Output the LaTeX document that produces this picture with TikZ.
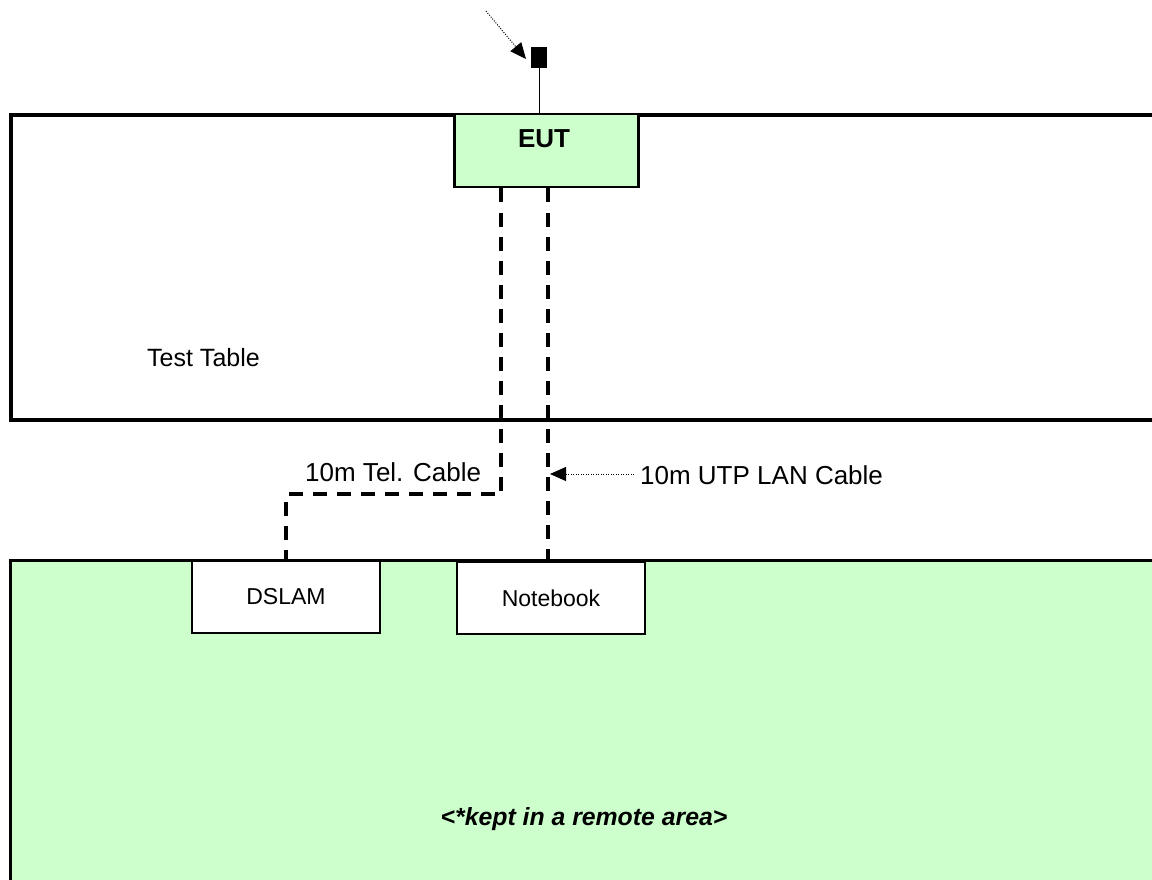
\documentclass[tikz,border=0pt]{standalone}
\usepackage{fontspec}
\setmainfont{Liberation Sans}
\usetikzlibrary{arrows.meta}
\definecolor{lightgreen}{HTML}{CCFFCC}
\tikzset{
  thickframe/.style={draw=black, line width=4pt},
  device/.style={draw=black, line width=1.3pt, fill=white, minimum width=188pt, minimum height=72pt, inner sep=0pt, font=\fontsize{23}{27}\selectfont},
  eutbox/.style={draw=black, line width=2.5pt, fill=lightgreen, minimum width=184pt, minimum height=73pt, inner sep=0pt},
  cable/.style={line width=4pt, dash pattern=on 14pt off 10pt},
  pointer/.style={line width=1pt, dash pattern=on 1pt off 1.5pt, -{Triangle[length=16pt,width=14pt]}},
  label/.style={inner sep=0pt, font=\fontsize{26}{30}\selectfont},
}
\begin{document}
\begin{tikzpicture}[x=1pt, y=-1pt]
  \useasboundingbox (0,0) rectangle (1152,880);
  \clip (0,0) rectangle (1152,880);

  % test table
  \draw[thickframe] (11,115) rectangle (1180,420);
  \node[inner sep=0pt, font=\fontsize{25}{29}\selectfont, anchor=base west] (tabletxt) at (147,366) {Test Table};

  % remote area
  \draw[draw=black, line width=3pt, fill=lightgreen] (10,560) rectangle (1180,900);
  \node[inner sep=0pt, font=\fontsize{24.8}{29}\selectfont\bfseries\itshape, anchor=base] (remotetxt) at (584,825) {<*kept in a remote area>};

  % equipment under test
  \node[eutbox, anchor=north west] (eut) at (453,113) {};
  \node[inner sep=0pt, font=\fontsize{26}{30}\selectfont\bfseries, anchor=base] (euttxt) at (544,148) {EUT};

  % power plug
  \node[fill=black, draw=black, minimum width=15pt, minimum height=20pt, inner sep=0pt, anchor=north] (plug) at (539,47) {};
  \draw[line width=1pt] (plug.south) -- (plug.south |- eut.north);
  \coordinate (plugsrc) at (486,11);
  \coordinate (plugtip) at (526,59);
  \draw[pointer] (plugsrc) -- (plugtip);

  % remote devices
  \node[device] (dslam) at (286,597) {DSLAM};
  \node[device] (notebook) at (551,598) {Notebook};

  % cables
  \coordinate (telbend) at (501,494);
  \coordinate (lanx) at (548,0);
  \draw[cable] (eut.south -| telbend) -- (telbend) -- (telbend -| dslam.north) -- (dslam.north);
  \draw[cable] (eut.south -| lanx) -- (notebook.north -| lanx);

  % cable labels
  \node[label, anchor=base west] (teltxt) at (305,481) {10m Tel. Cable};
  \node[label, anchor=base west] (lantxt) at (640,484) {10m UTP LAN Cable};
  \draw[pointer, shorten <=6pt] (lantxt.west |- 0,474) -- (550,474);
\end{tikzpicture}
\end{document}
